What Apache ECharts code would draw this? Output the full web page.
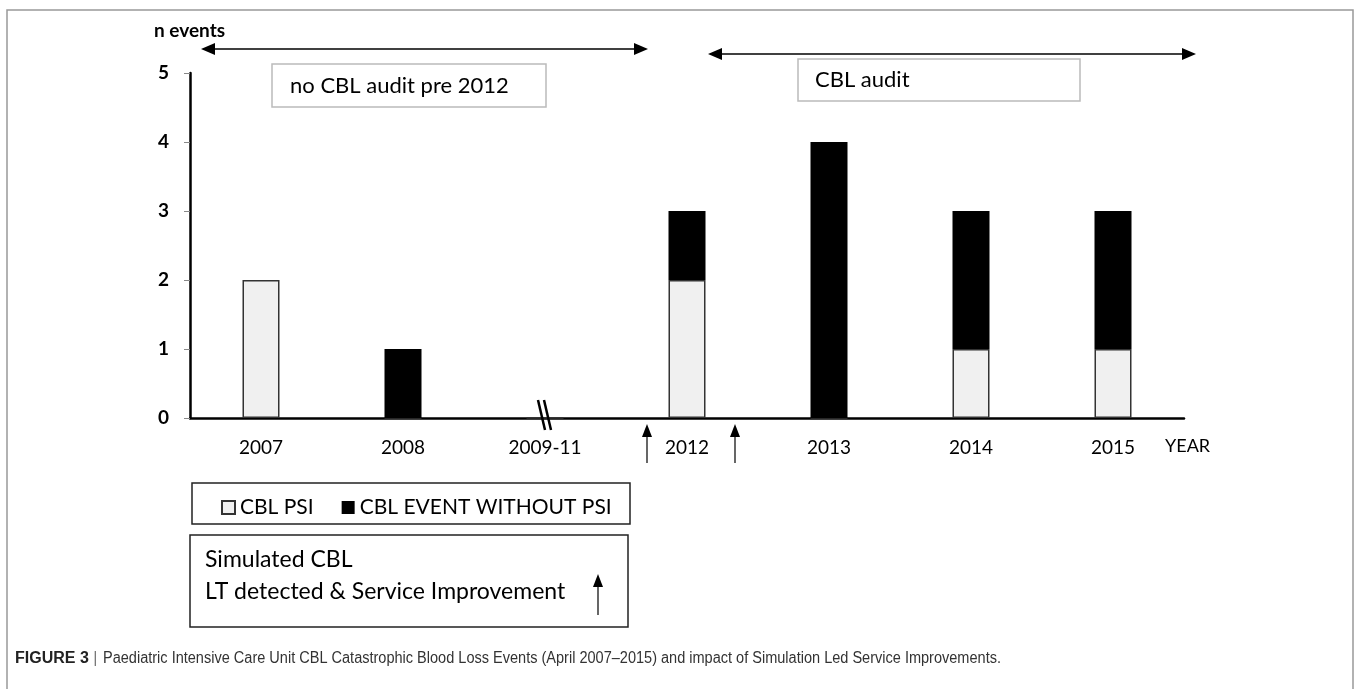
<!DOCTYPE html>
<html>
<head>
<meta charset="utf-8">
<script src="https://cdn.jsdelivr.net/npm/echarts@6/dist/echarts.min.js"></script>
<style>
  html, body { margin: 0; padding: 0; background: #fff; }
  #cblChart { width: 1356px; height: 689px; }
</style>
</head>
<body>
<div id="cblChart"></div>
<script>
const years = ['2007', '2008', '2009-11', '2012', '2013', '2014', '2015'];
const psiEvents = [2, 0, 0, 2, 0, 1, 1];
const noPsiEvents = [0, 1, 0, 1, 4, 2, 2];
const yTicks = [0, 1, 2, 3, 4, 5];
const seriesNames = ['CBL PSI', 'CBL EVENT WITHOUT PSI'];

const cblChart = echarts.init(document.getElementById('cblChart'));
const font = 'Lato, "Open Sans", sans-serif';

// little helpers for the drawn annotations
function hArrow(x1, x2, y) {
    return {
        type: 'group',
        children: [
            { type: 'line', z: 50, shape: { x1: x1 + 10, y1: y, x2: x2 - 10, y2: y }, style: { stroke: '#000', lineWidth: 1.5 } },
            { type: 'polygon', z: 50, shape: { points: [[x1, y], [x1 + 14, y - 6], [x1 + 14, y + 6]] }, style: { fill: '#000' } },
            { type: 'polygon', z: 50, shape: { points: [[x2, y], [x2 - 14, y - 6], [x2 - 14, y + 6]] }, style: { fill: '#000' } }
        ]
    };
}
function upArrow(x, yTop, yBottom) {
    return {
        type: 'group',
        children: [
            { type: 'line', z: 50, shape: { x1: x, y1: yTop + 10, x2: x, y2: yBottom }, style: { stroke: '#000', lineWidth: 1.2 } },
            { type: 'polygon', z: 50, shape: { points: [[x, yTop], [x - 5, yTop + 13], [x + 5, yTop + 13]] }, style: { fill: '#000' } }
        ]
    };
}
function box(x, y, w, h, color, width) {
    return { type: 'rect', z: 40, shape: { x: x, y: y, width: w, height: h }, style: { fill: '#fff', stroke: color, lineWidth: width } };
}
function label(x, y, text, size, weight) {
    return { type: 'text', z: 60, x: x, y: y, style: { text: text, font: (weight || 'normal') + ' ' + size + 'px ' + font, fill: '#000', textVerticalAlign: 'middle' } };
}

const option = {
    backgroundColor: '#fff',
    animation: false,
    grid: { left: 190, right: 172, top: 73, bottom: 271 },
    legend: {
        data: seriesNames,
        left: 216, top: 492,
        icon: 'rect', itemWidth: 13, itemHeight: 13, itemGap: 28,
        textStyle: { fontFamily: font, fontSize: 21, color: '#000' },
        z: 70
    },
    xAxis: {
        type: 'category',
        data: years,
        axisLine: { lineStyle: { color: '#000', width: 2.5 } },
        axisTick: { show: false },
        axisLabel: { color: '#000', fontFamily: font, fontSize: 19, margin: 20 }
    },
    yAxis: {
        type: 'value',
        min: yTicks[0], max: yTicks[yTicks.length - 1], interval: 1,
        axisLine: { show: true, lineStyle: { color: '#000', width: 2.5 } },
        axisTick: { show: true, length: 6, lineStyle: { color: '#888' } },
        splitLine: { show: false },
        axisLabel: { color: '#000', fontFamily: font, fontSize: 19, fontWeight: 'bold', margin: 21 }
    },
    series: [
        {
            name: seriesNames[0], type: 'bar', stack: 'ev', barWidth: 37,
            data: psiEvents,
            itemStyle: { color: '#f0f0f0', borderColor: '#333', borderWidth: 1.5 }
        },
        {
            name: seriesNames[1], type: 'bar', stack: 'ev', barWidth: 37,
            data: noPsiEvents,
            itemStyle: { color: '#000' }
        }
    ],
    graphic: [
        // outer frame of the figure
        { type: 'rect', z: 1, shape: { x: 7, y: 10, width: 1346, height: 720 }, style: { fill: 'none', stroke: '#999', lineWidth: 1.5 } },
        label(154, 31, 'n events', 19, 'bold'),
        hArrow(201, 648, 49),
        hArrow(708, 1196, 54),
        box(272, 64, 274, 43, '#bbb', 1.5),
        label(290, 86, 'no CBL audit pre 2012', 22),
        box(798, 59, 282, 42, '#bbb', 1.5),
        label(815, 80, 'CBL audit', 22),
        label(1165, 446, 'YEAR', 18),
        // axis break mark at 2009-11
        { type: 'line', z: 50, shape: { x1: 538, y1: 400, x2: 545, y2: 430 }, style: { stroke: '#000', lineWidth: 2.5 } },
        { type: 'line', z: 50, shape: { x1: 544, y1: 400, x2: 551, y2: 430 }, style: { stroke: '#000', lineWidth: 2.5 } },
        upArrow(647, 424, 463),
        upArrow(735, 424, 463),
        // legend box and the simulation key
        box(192, 483, 438, 41, '#222', 1.5),
        box(190, 535, 438, 92, '#222', 1.5),
        label(205, 560, 'Simulated CBL', 23),
        label(205, 592, 'LT detected & Service Improvement', 23),
        upArrow(598, 574, 615),
        // caption
        {
            type: 'text', z: 60, x: 15, y: 659,
            style: {
                text: '{b|FIGURE 3} {s||}',
                font: '16px "Liberation Sans", Arial, sans-serif',
                fill: '#333',
                textVerticalAlign: 'middle',
                rich: {
                    b: { fontWeight: 'bold', fontFamily: '"Liberation Sans", Arial, sans-serif', fontSize: 16, fill: '#222' },
                    s: { fill: '#777', fontSize: 16 }
                }
            }
        },
        {
            type: 'text', z: 60, x: 103, y: 659, scaleX: 0.908, originX: 0,
            style: {
                text: 'Paediatric Intensive Care Unit CBL Catastrophic Blood Loss Events (April 2007\u20132015) and impact of Simulation Led Service Improvements.',
                font: '16px "Liberation Sans", Arial, sans-serif',
                fill: '#333',
                textVerticalAlign: 'middle'
            }
        }
    ]
};

cblChart.setOption(option);
</script>
</body>
</html>
